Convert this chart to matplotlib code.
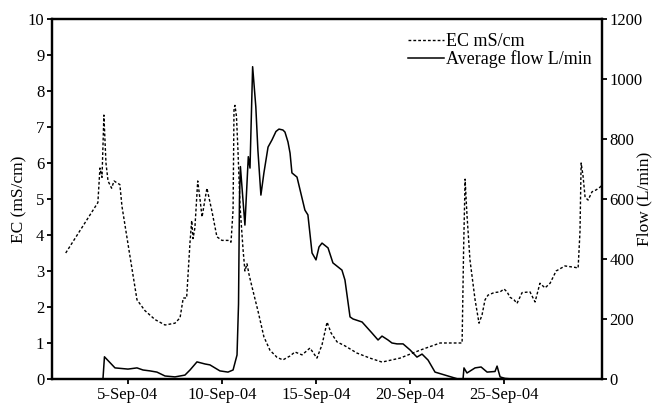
import matplotlib
matplotlib.use("Agg")
import matplotlib.pyplot as plt
import matplotlib.dates as mdates
import pandas as pd

plt.rcParams['font.family'] = ['Liberation Serif', 'DejaVu Serif']

# day of September 2004 (fractional)
ec_day = [1.69, 3.40, 3.51, 3.62, 3.72, 3.83, 3.94, 4.13, 4.26, 4.41, 4.57, 4.68,
          5.11, 5.48, 5.90, 6.44, 6.97, 7.50, 7.77, 7.94, 8.12, 8.30, 8.39, 8.46,
          8.56, 8.71, 8.83, 8.94, 9.10, 9.20, 9.47, 9.73, 10.00, 10.32, 10.48,
          10.59, 10.64, 10.69, 10.77, 10.85, 10.96, 11.12, 11.22, 11.33, 11.44,
          11.60, 11.91, 12.23, 12.55, 12.93, 13.24, 13.62, 13.88, 14.26, 14.68,
          15.05, 15.32, 15.59, 15.80, 16.12, 16.54, 17.18, 17.87, 18.51, 19.47,
          20.53, 21.60, 22.77, 22.85, 22.93, 23.03, 23.19, 23.46, 23.67, 23.83,
          23.99, 24.15, 24.47, 24.79, 25.00, 25.16, 25.32, 25.53, 25.69, 25.96,
          26.38, 26.65, 26.91, 27.18, 27.45, 27.77, 28.24, 28.78, 28.94, 29.04,
          29.10, 29.20, 29.31, 29.47, 29.68, 29.89, 30.11, 30.21]
ec_val = [3.5, 4.9, 5.86, 5.6, 7.33, 6.0, 5.5, 5.3, 5.5, 5.45, 5.4, 4.8,
          3.4, 2.2, 1.9, 1.65, 1.5, 1.55, 1.7, 2.25, 2.25, 3.8, 4.4, 3.9,
          4.2, 5.5, 5.0, 4.5, 5.0, 5.3, 4.65, 3.95, 3.85, 3.85, 3.8,
          4.7, 7.5, 7.6, 7.3, 6.35, 4.8, 3.6, 3.0, 3.2, 2.9,
          2.55, 1.9, 1.17, 0.8, 0.6, 0.53, 0.64, 0.75, 0.67, 0.86,
          0.58, 0.95, 1.58, 1.28, 1.03, 0.92, 0.72, 0.58, 0.47, 0.58,
          0.8, 1.0, 1.0, 3.6, 5.55, 4.55, 3.3, 2.2, 1.55, 1.78,
          2.2, 2.33, 2.4, 2.42, 2.5, 2.42, 2.27, 2.2, 2.1, 2.4,
          2.42, 2.14, 2.66, 2.53, 2.66, 3.0, 3.14, 3.1, 3.08, 4.1,
          6.0, 5.65, 5.05, 4.97, 5.2, 5.25, 5.33, 5.4]

flow_day = [3.67, 3.75, 4.31, 5.00, 5.48, 5.80, 6.17, 6.54, 6.97, 7.50, 8.03, 8.30,
            8.67, 9.10, 9.36, 9.89, 10.32, 10.59, 10.80, 10.88, 10.93, 10.98,
            11.22, 11.40, 11.49, 11.63, 11.80, 11.91, 12.07, 12.23, 12.45, 12.66,
            12.87, 13.03, 13.24, 13.35, 13.51, 13.62, 13.72, 13.99, 14.41, 14.57,
            14.79, 15.00, 15.16, 15.32, 15.64, 15.90, 16.38, 16.54, 16.81, 16.97,
            17.45, 17.98, 18.30, 18.51, 18.83, 19.04, 19.31, 19.63, 20.00, 20.37,
            20.64, 20.96, 21.33, 21.86, 22.55, 22.82, 22.87, 23.03, 23.46, 23.78,
            24.10, 24.52, 24.63, 24.79, 25.05, 25.43]
flow_val = [0, 74, 37, 33, 37, 30, 27, 23, 10, 7, 13, 30,
            57, 50, 47, 27, 23, 30, 80, 250, 600, 708,
            513, 741, 703, 1041, 907, 763, 613, 687, 773, 797,
            825, 833, 830, 823, 790, 753, 687, 673, 563, 547,
            420, 397, 440, 453, 437, 387, 363, 330, 207, 200,
            190, 153, 130, 143, 130, 120, 117, 117, 97, 73,
            83, 63, 23, 13, 0, 0, 37, 20, 37, 40,
            23, 25, 43, 7, 2, 0]

date_ticks = [5, 10, 15, 20, 25]

base = pd.Timestamp('2004-08-31')
def to_date(days):
    return [base + pd.Timedelta(days=d) for d in days]

fig = plt.figure(figsize=(6.59, 4.04), dpi=100)
ax = fig.add_axes([0.0789, 0.0619, 0.8346, 0.8911])
ax2 = ax.twinx()

l1, = ax.plot(to_date(ec_day), ec_val, color='black', lw=1.0,
              linestyle=(0, (2.0, 1.5)), label='EC mS/cm')
l2, = ax2.plot(to_date(flow_day), flow_val, color='black', lw=1.1,
               label='Average flow L/min')

ax.set_xlim(to_date([0.96])[0], to_date([30.21])[0])
ax.set_ylim(0, 10)
ax.set_yticks(range(0, 11))
ax2.set_ylim(0, 1200)
ax2.set_yticks(range(0, 1201, 200))

ax.set_xticks(to_date(date_ticks))
ax.xaxis.set_major_formatter(
    matplotlib.ticker.FuncFormatter(lambda v, p: f"{mdates.num2date(v).day}-{mdates.num2date(v).strftime('%b-%y')}"))

for a in (ax, ax2):
    for s in a.spines.values():
        s.set_linewidth(1.6)
    a.tick_params(direction='out', length=3.5, width=1.3, labelsize=12, pad=2)

ax.set_ylabel('EC (mS/cm)', fontsize=12.5)
ax.yaxis.set_label_coords(-0.045, 0.5)
ax2.set_ylabel('Flow (L/min)', fontsize=12.5)
ax2.yaxis.set_label_coords(1.063, 0.5)

ax.legend(handles=[l1, l2], loc='upper right', frameon=False, fontsize=13,
          handlelength=2.0, handletextpad=0.1, borderaxespad=0.2,
          labelspacing=0.0, bbox_to_anchor=(1.0, 0.99))

fig.savefig('out.png', dpi=100)
